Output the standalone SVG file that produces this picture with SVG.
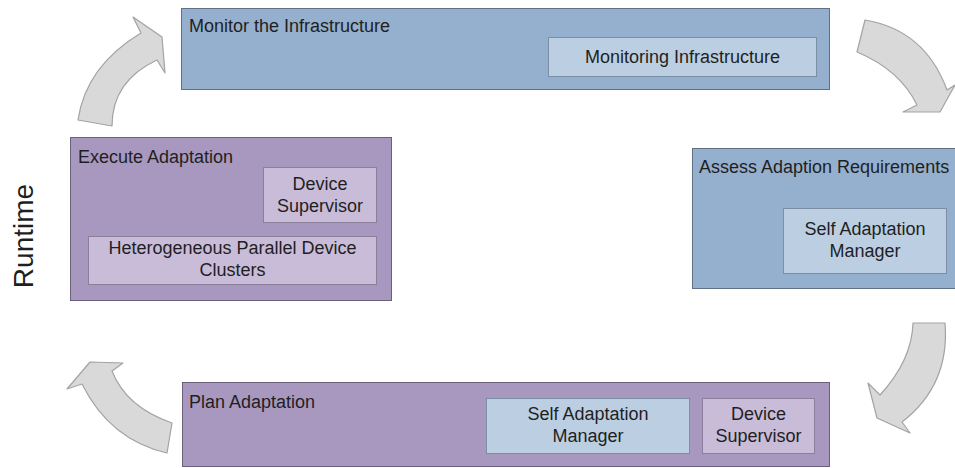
<svg xmlns="http://www.w3.org/2000/svg" width="955" height="468" viewBox="0 0 955 468">
<style>
.bl{fill:#95afce;stroke:#5f7185;stroke-width:1}
.pu{fill:#a898bf;stroke:#6b5f7c;stroke-width:1}
.ibl{fill:#bccfe2;stroke:#7c8ea3;stroke-width:1}
.ipu{fill:#c9bcd9;stroke:#8b7f9c;stroke-width:1}
.ar{fill:#d9d9d9;stroke:#a3a3a3;stroke-width:1.2;stroke-linejoin:round}
text{font-family:"Liberation Sans",Arial,sans-serif;font-size:18px;fill:#1f1f1f}
.c{text-anchor:middle}
</style>
<rect width="955" height="468" fill="#ffffff"/>
<g id="runtime-label">
<text transform="translate(33,236) rotate(-90)" class="c" style="font-size:28px">Runtime</text>
</g>
<g id="monitor">
<rect class="bl" x="181.5" y="8.5" width="648" height="81"/>
<text x="189" y="32">Monitor the Infrastructure</text>
<rect class="ibl" x="548.5" y="37.5" width="268" height="39"/>
<text class="c" x="682.5" y="63">Monitoring Infrastructure</text>
</g>
<g id="assess">
<rect class="bl" x="692.5" y="148.5" width="270" height="140"/>
<text x="699" y="173">Assess Adaption Requirements</text>
<rect class="ibl" x="783.5" y="208.5" width="163" height="65"/>
<text class="c" x="865" y="235">Self Adaptation</text>
<text class="c" x="865" y="257">Manager</text>
</g>
<g id="plan">
<rect class="pu" x="182.5" y="382.5" width="647" height="84"/>
<text x="189" y="408">Plan Adaptation</text>
<rect class="ibl" x="486.5" y="398.5" width="203" height="55"/>
<text class="c" x="588" y="420">Self Adaptation</text>
<text class="c" x="588" y="442">Manager</text>
<rect class="ipu" x="702.5" y="398.5" width="112" height="55"/>
<text class="c" x="758.5" y="420">Device</text>
<text class="c" x="758.5" y="442">Supervisor</text>
</g>
<g id="execute">
<rect class="pu" x="70.5" y="137.5" width="321" height="163"/>
<text x="78" y="163">Execute Adaptation</text>
<rect class="ipu" x="263.5" y="167.5" width="113" height="55"/>
<text class="c" x="320" y="190">Device</text>
<text class="c" x="320" y="212">Supervisor</text>
<rect class="ipu" x="88.5" y="236.5" width="288" height="48"/>
<text class="c" x="232.5" y="254">Heterogeneous Parallel Device</text>
<text class="c" x="232.5" y="276">Clusters</text>
</g>
<g id="connectors">
<path class="ar" d="M78,120 Q86,66 141,33 L133,17 L162,37 L165,73 L157,60 Q112,81 112,126 Z"/>
<path class="ar" d="M865,20 Q925,30 947,90 L955,85 L940,112 L903,112 L917,105 Q900,70 857,52 Z"/>
<path class="ar" d="M945,323 Q950,385 902,422 L910,433 L877,418 L868,383 L880,395 Q912,360 913,323 Z"/>
<path class="ar" d="M172,423 Q126,407 112,371 L123,363 L90,362 L67,389 L82,384 Q110,440 167,453 Z"/>
</g>
</svg>
